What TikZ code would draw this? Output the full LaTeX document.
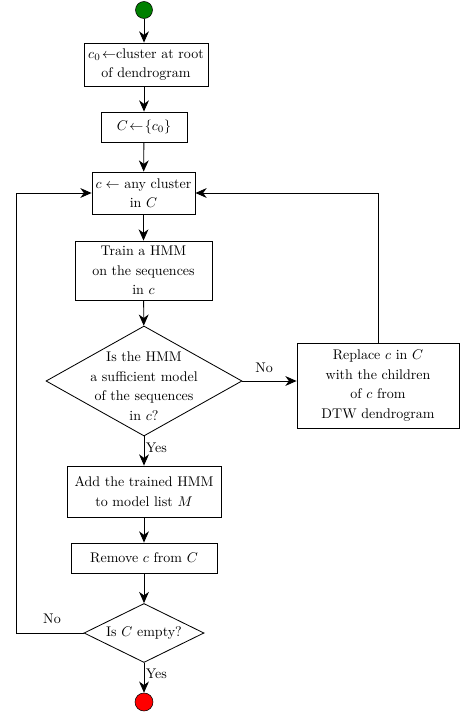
\documentclass[tikz,border=0pt]{standalone}
\usetikzlibrary{arrows.meta,shapes.geometric}
\begin{document}
\begin{tikzpicture}[x=0.714pt,y=-0.714pt,
  every node/.style={font=\fontsize{10}{13.9}\selectfont},
  box/.style={draw,semithick,rectangle,align=center,inner sep=0pt},
  dia/.style={draw,semithick,diamond,inner sep=0pt},
  lbl/.style={inner sep=1pt},
  conn/.style={semithick,-{Stealth[length=8pt,width=7pt,inset=2.5pt]}},
  plain/.style={semithick}]
\useasboundingbox (0,0) rectangle (461,714);
\node[circle,draw,fill=green!50!black,minimum size=17*0.714pt,inner sep=0pt] (start) at (144,10) {};
\node[box,minimum width=124*0.714pt,minimum height=43*0.714pt] (b1) at (146,64.5) {$c_0\!\leftarrow$cluster at root\\of dendrogram};
\node[box,minimum width=86*0.714pt,minimum height=30*0.714pt] (b2) at (144,127) {$C\!\leftarrow\!\{c_0\}$};
\node[box,minimum width=103*0.714pt,minimum height=42*0.714pt] (b3) at (143.5,193) {$c\leftarrow$ any cluster\\in $C$};
\node[box,minimum width=137*0.714pt,minimum height=59*0.714pt] (b4) at (143.5,270.5) {Train a HMM\\on the sequences\\in $c$};
\node[dia,minimum width=196*0.714pt,minimum height=110*0.714pt] (d1) at (144,381) {};
\node[align=center] at (144,386) {Is the HMM\\a sufficient model\\of the sequences\\in $c$?};
\node[box,minimum width=162*0.714pt,minimum height=85*0.714pt] (rep) at (378,385.5) {Replace $c$ in $C$\\with the children\\of $c$ from\\DTW dendrogram};
\node[box,minimum width=154*0.714pt,minimum height=51*0.714pt] (add) at (144,491.5) {Add the trained HMM\\to model list $M$};
\node[box,minimum width=146*0.714pt,minimum height=30*0.714pt] (rem) at (144,558) {Remove $c$ from $C$};
\node[dia,minimum width=120*0.714pt,minimum height=59*0.714pt] (d2) at (144,633) {};
\node at (144,633) {Is $C$ empty?};
\node[circle,draw,fill=red,minimum size=18*0.714pt,inner sep=0pt] (stop) at (144,702) {};
\draw[conn] (start) -- (start |- b1.north);
\draw[conn] (b1.south -| b2) -- (b2.north);
\draw[conn] (b2) -- (b3);
\draw[conn] (b3) -- (b4);
\draw[conn] (b4) -- (d1);
\draw[conn] (d1.east) -- (d1.east -| rep.west);
\node[lbl] at (264,368) {No};
\draw[conn] (rep.north) |- (b3.east);
\draw[conn] (d1.south) -- (add.north) node[lbl,pos=0.4,right] {Yes};
\draw[conn] (add) -- (rem);
\draw[conn] (rem) -- (d2);
\coordinate (lc) at (16,633);
\draw[conn] (d2.west) -- (lc) |- (b3.west);
\node[lbl] at (52,619) {No};
\draw[conn] (d2.south) -- (stop.north) node[lbl,pos=0.35,right] {Yes};
\end{tikzpicture}
\end{document}
